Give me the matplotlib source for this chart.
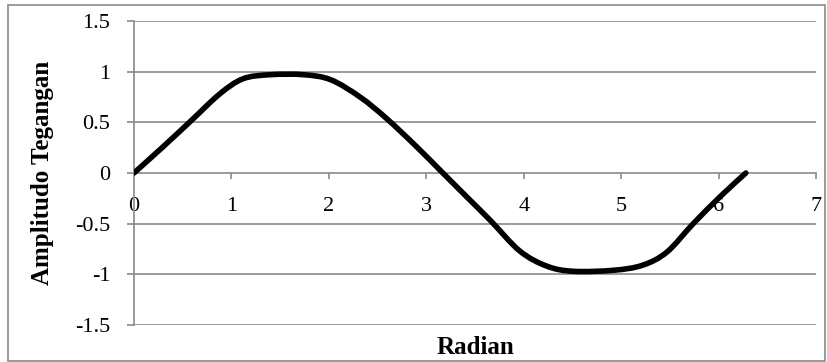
import matplotlib.pyplot as plt
from matplotlib.patches import Rectangle, PathPatch
from matplotlib.path import Path

# sampled voltage amplitude over one period
radian = [0, 0.3, 0.58, 0.88, 1.12, 1.4, 1.74, 2.02, 2.32, 2.59,
          2.9, 3.16, 3.42, 3.66, 3.96, 4.24, 4.51, 4.92, 5.22,
          5.47, 5.74, 6.02, 6.28]
amplitudo = [0, 0.26, 0.51, 0.78, 0.93, 0.97, 0.97, 0.92, 0.75, 0.54,
             0.26, 0.01, -0.24, -0.47, -0.77, -0.92, -0.97, -0.96, -0.91,
             -0.78, -0.5, -0.23, 0]

x_ticks = [0, 1, 2, 3, 4, 5, 6, 7]
y_ticks = [-1.5, -1, -0.5, 0, 0.5, 1, 1.5]
y_labels = ['-1.5', '-1', '-0.5', '0', '0.5', '1', '1.5']

plt.rcParams['font.family'] = ['Liberation Serif', 'DejaVu Serif']
grid_col = '#8a8a8a'


def smooth_path(xs, ys):
    # cubic bezier segments through every point (spreadsheet-style smoothing)
    pts = list(zip(xs, ys))
    n = len(pts)
    verts = [pts[0]]
    codes = [Path.MOVETO]
    for i in range(n - 1):
        p0 = pts[i - 1] if i > 0 else pts[i]
        p1 = pts[i]
        p2 = pts[i + 1]
        p3 = pts[i + 2] if i + 2 < n else pts[i + 1]
        c1 = (p1[0] + (p2[0] - p0[0]) / 6, p1[1] + (p2[1] - p0[1]) / 6)
        c2 = (p2[0] - (p3[0] - p1[0]) / 6, p2[1] - (p3[1] - p1[1]) / 6)
        verts += [c1, c2, p2]
        codes += [Path.CURVE4] * 3
    return Path(verts, codes)


fig = plt.figure(figsize=(8.28, 3.62), dpi=100)
ax = fig.add_axes([0.1618, 0.1022, 0.8237, 0.8398])

ax.add_patch(PathPatch(smooth_path(radian, amplitudo), facecolor='none',
                       edgecolor='black', lw=4.0, joinstyle='round',
                       capstyle='round', zorder=3))

ax.set_xlim(0, 7)
ax.set_ylim(-1.5, 1.5)
ax.set_xticks(x_ticks)
ax.set_xticklabels([str(t) for t in x_ticks])
ax.set_yticks(y_ticks)
ax.set_yticklabels(y_labels)

for yv in y_ticks:
    if yv != 0:
        ax.axhline(yv, color=grid_col, lw=1.2, zorder=1)

for side in ['top', 'right']:
    ax.spines[side].set_visible(False)
ax.spines['bottom'].set_position(('data', 0))
ax.spines['bottom'].set_color(grid_col)
ax.spines['bottom'].set_linewidth(1.2)
ax.spines['left'].set_color(grid_col)
ax.spines['left'].set_linewidth(1.2)

ax.tick_params(axis='x', direction='out', length=4, width=1.2, color=grid_col,
               pad=13, labelsize=16)
ax.tick_params(axis='y', direction='out', length=5, width=1.2, color=grid_col,
               pad=12, labelsize=16)
ax.get_xticklines()[0].set_visible(False)

ax.set_xlabel('Radian', fontsize=18, fontweight='bold', labelpad=0)
ax.xaxis.set_label_coords(0.5, -0.035)
ax.set_ylabel('Amplitudo Tegangan', fontsize=18, fontweight='bold')
ax.yaxis.set_label_coords(-0.117, 0.5)

# chart border
fig.patches.append(Rectangle((8 / 828, 0.002), 817 / 828, 356 / 362,
                             transform=fig.transFigure, fill=False,
                             edgecolor='#8a8a8a', lw=1.2))

fig.savefig('out.png', dpi=100)
